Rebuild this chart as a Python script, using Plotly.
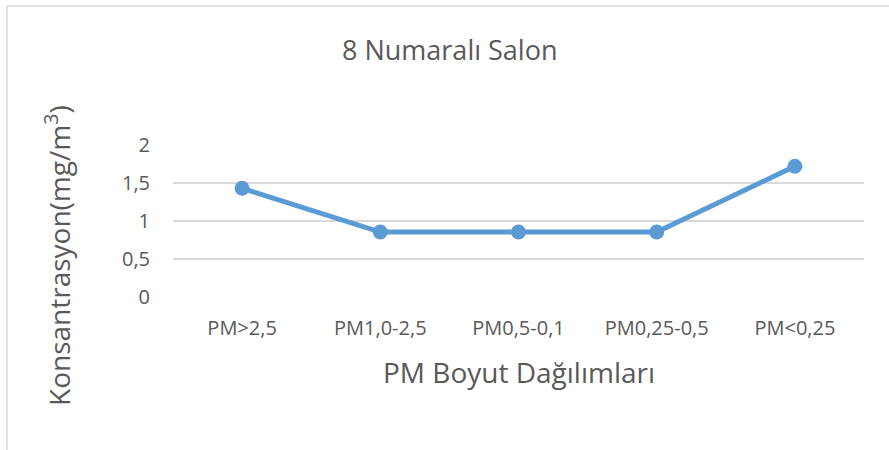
import plotly.graph_objects as go

categories = ["PM>2,5", "PM1,0-2,5", "PM0,5-0,1", "PM0,25-0,5", "PM<0,25"]
values = [1.43, 0.855, 0.855, 0.855, 1.72]
y_tick_vals = [0, 0.5, 1, 1.5, 2]
y_tick_text = ["0", "0,5", "1", "1,5", "2"]

W, H = 889, 450
ML, MR, MT, MB = 173, 25, 145, 153
PW = W - ML - MR
PH = H - MT - MB

def px_x(px):
    return (px - ML) / PW

def px_y(py):
    return (H - MB - py) / PH

FONT = "Open Sans"
GRAY = "#595959"

fig = go.Figure()
fig.add_trace(go.Scatter(
    x=categories, y=values, mode="lines+markers",
    line=dict(color="#5B9BD5", width=5),
    marker=dict(color="#5B9BD5", size=15),
    showlegend=False, hoverinfo="skip", cliponaxis=False,
))

fig.update_layout(
    width=W, height=H,
    margin=dict(l=ML, r=MR, t=MT, b=MB),
    paper_bgcolor="white", plot_bgcolor="white",
    font=dict(family=FONT, color=GRAY),
    xaxis=dict(
        type="category", showgrid=False, zeroline=False,
        showline=False, ticks="", tickfont=dict(size=20, color=GRAY),
        ticklabelstandoff=17,
        range=[-0.5, 4.5], fixedrange=True,
    ),
    yaxis=dict(
        range=[0, 2], tickvals=y_tick_vals, ticktext=y_tick_text,
        showgrid=True, gridcolor="#d9d9d9", gridwidth=1.5,
        zeroline=False, showline=False, ticks="",
        tickfont=dict(size=20, color=GRAY), ticklabelstandoff=22,
        fixedrange=True,
    ),
    shapes=[dict(
        type="rect", xref="paper", yref="paper",
        x0=px_x(7), x1=px_x(900), y0=px_y(470), y1=px_y(6),
        line=dict(color="#d9d9d9", width=1.5), fillcolor="rgba(0,0,0,0)",
        layer="below",
    )],
    annotations=[
        dict(text="8 Numaralı Salon", xref="paper", yref="paper",
             x=px_x(449), y=px_y(49), showarrow=False,
             xanchor="center", yanchor="middle",
             font=dict(size=27, color=GRAY, family=FONT)),
        dict(text="PM Boyut Dağılımları", xref="paper", yref="paper",
             x=px_x(519), y=px_y(372), showarrow=False,
             xanchor="center", yanchor="middle",
             font=dict(size=28, color=GRAY, family=FONT)),
        dict(text="Konsantrasyon(mg/m<sup>3</sup>)", xref="paper", yref="paper",
             x=px_x(57), y=px_y(256), showarrow=False, textangle=-90,
             xanchor="center", yanchor="middle",
             font=dict(size=28, color=GRAY, family=FONT)),
    ],
)

fig.write_html("out.html", config={"displayModeBar": False},
               post_script="document.body.style.margin='0';")
